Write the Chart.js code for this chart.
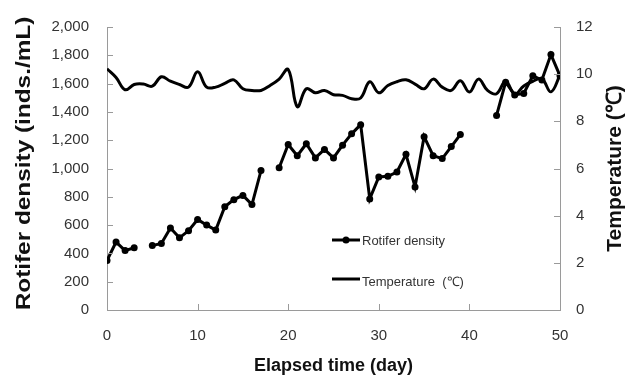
<!DOCTYPE html>
<html>
<head>
<meta charset="utf-8">
<script src="https://cdn.jsdelivr.net/npm/chart.js@4.4.1/dist/chart.umd.min.js"></script>
<style>
  html, body { margin: 0; padding: 0; background: #fff; }
  canvas { display: block; }
</style>
</head>
<body>
<canvas id="chart" width="635" height="381"></canvas>
<script>
// data
const days = [0,1,2,3,4,5,6,7,8,9,10,11,12,13,14,15,16,17,18,19,20,21,22,23,24,25,26,27,28,29,30,31,32,33,34,35,36,37,38,39,40,41,42,43,44,45,46,47,48,49,50];
const rotiferDensity = [350,480,420,440,null,455,470,580,510,560,640,600,565,730,780,810,745,985,null,1005,1170,1090,1175,1075,1135,1075,1165,1245,1310,785,940,945,975,1100,870,1225,1090,1070,1155,1240,null,null,null,1375,1610,1520,1530,1655,1625,1805,1655];
const temperature = [10.23,9.86,9.34,9.56,9.58,9.49,9.89,9.7,9.56,9.45,10.1,9.45,9.45,9.61,9.76,9.38,9.31,9.31,9.52,9.79,10.2,8.62,9.38,9.21,9.31,9.13,9.1,8.96,8.99,9.68,9.21,9.52,9.68,9.76,9.58,9.38,9.79,9.45,9.31,9.72,9.24,9.79,9.31,9.17,9.7,9.15,9.5,9.7,9.8,9.25,9.95];

const xTicks = [0, 10, 20, 30, 40, 50];
const seriesNames = ["Rotifer density", "Temperature  (\u2103)"];
const axisTitles = ["Rotifer density (inds./mL)", "Temperature (\u2103)"];

const axisGray = "#9a9a9a";
const textGray = "#333";
const fontFam = "'Liberation Sans', Arial, sans-serif";

const densityPoints = days.map((d, i) => ({ x: d, y: rotiferDensity[i] }));
const tempPoints = days.map((d, i) => ({ x: d, y: temperature[i] }));

// inward tick marks
const innerTicks = {
  id: "innerTicks",
  afterDraw(chart) {
    const ctx = chart.ctx;
    const { x, y, y2 } = chart.scales;
    ctx.save();
    ctx.strokeStyle = axisGray;
    ctx.lineWidth = 1;
    ctx.beginPath();
    y.ticks.forEach((t) => {
      const py = Math.round(y.getPixelForValue(t.value)) + 0.5;
      ctx.moveTo(x.left, py);
      ctx.lineTo(x.left + 6, py);
    });
    y2.ticks.forEach((t) => {
      const py = Math.round(y2.getPixelForValue(t.value)) + 0.5;
      ctx.moveTo(x.right, py);
      ctx.lineTo(x.right - 6, py);
    });
    x.ticks.forEach((t) => {
      const px = Math.round(x.getPixelForValue(t.value)) + 0.5;
      ctx.moveTo(px, y.bottom);
      ctx.lineTo(px, y.bottom - 6);
    });
    ctx.stroke();
    ctx.restore();
  },
};

// both y titles read bottom to top
const sideTitles = {
  id: "sideTitles",
  afterDraw(chart) {
    const ctx = chart.ctx;
    const area = chart.chartArea;
    const cy = (area.top + area.bottom) / 2;
    const spots = [
      { x: 24, y: cy - 5, stretch: 1.16 },
      { x: 615, y: cy, stretch: 1 },
    ];
    ctx.save();
    ctx.fillStyle = "#111";
    ctx.font = "bold 21px " + fontFam;
    ctx.textAlign = "center";
    ctx.textBaseline = "middle";
    spots.forEach((s, i) => {
      ctx.save();
      ctx.translate(s.x, s.y);
      ctx.rotate(-Math.PI / 2);
      ctx.scale(s.stretch, 1);
      ctx.fillText(axisTitles[i], 0, 0);
      ctx.restore();
    });
    ctx.restore();
  },
};

// legend inside the plot
const innerLegend = {
  id: "innerLegend",
  afterDraw(chart) {
    const ctx = chart.ctx;
    const area = chart.chartArea;
    const lx = area.left + 225;
    const rows = [area.top + 213, area.top + 252];
    ctx.save();
    ctx.lineWidth = 3;
    rows.forEach((ry, i) => {
      ctx.strokeStyle = "#000";
      ctx.fillStyle = "#000";
      ctx.beginPath();
      ctx.moveTo(lx, ry);
      ctx.lineTo(lx + 28, ry);
      ctx.stroke();
      if (i === 0) {
        ctx.beginPath();
        ctx.arc(lx + 14, ry, 3.5, 0, Math.PI * 2);
        ctx.fill();
      }
      ctx.fillStyle = textGray;
      ctx.font = "13px " + fontFam;
      ctx.textBaseline = "middle";
      ctx.fillText(seriesNames[i], lx + 30, ry + (i === 0 ? 1 : 3));
    });
    ctx.restore();
  },
};

new Chart(document.getElementById("chart"), {
  type: "line",
  data: {
    datasets: [
      {
        label: seriesNames[0],
        data: densityPoints,
        yAxisID: "y",
        borderColor: "#000",
        backgroundColor: "#000",
        borderWidth: 3,
        pointRadius: 3.5,
        pointHoverRadius: 3.5,
        pointBackgroundColor: "#000",
        pointBorderWidth: 0,
        tension: 0,
        spanGaps: false,
      },
      {
        label: seriesNames[1],
        data: tempPoints,
        yAxisID: "y2",
        borderColor: "#000",
        borderWidth: 3,
        pointRadius: 0,
        tension: 0.4,
      },
    ],
  },
  options: {
    responsive: false,
    animation: false,
    layout: { padding: { top: 20, left: 0, right: 0, bottom: 0 } },
    plugins: { legend: { display: false }, tooltip: { enabled: false } },
    scales: {
      x: {
        type: "linear",
        min: 0,
        max: 50,
        afterBuildTicks: (scale) => {
          scale.ticks = xTicks.map((v) => ({ value: v }));
        },
        afterFit: (scale) => { scale.height = 71; },
        grid: { display: false, drawTicks: false },
        border: { color: axisGray, width: 1 },
        ticks: { color: textGray, font: { size: 15, family: fontFam }, padding: 17, maxRotation: 0 },
        title: {
          display: true,
          text: "Elapsed time (day)",
          color: "#111",
          font: { size: 18, weight: "bold", family: fontFam },
          padding: { top: 6 },
        },
      },
      y: {
        position: "left",
        min: 0,
        max: 2000,
        ticks: {
          stepSize: 200,
          color: textGray,
          font: { size: 15, family: fontFam },
          padding: 18,
          callback: (v) => v.toLocaleString("en-US"),
        },
        afterFit: (scale) => { scale.width = 107; },
        grid: { display: false, drawTicks: false },
        border: { color: axisGray, width: 1 },
      },
      y2: {
        position: "right",
        min: 0,
        max: 12,
        ticks: {
          stepSize: 2,
          color: textGray,
          font: { size: 15, family: fontFam },
          padding: 16,
        },
        afterFit: (scale) => { scale.width = 75; },
        grid: { display: false, drawTicks: false },
        border: { color: axisGray, width: 1 },
      },
    },
  },
  plugins: [innerTicks, sideTitles, innerLegend],
});
</script>
</body>
</html>
